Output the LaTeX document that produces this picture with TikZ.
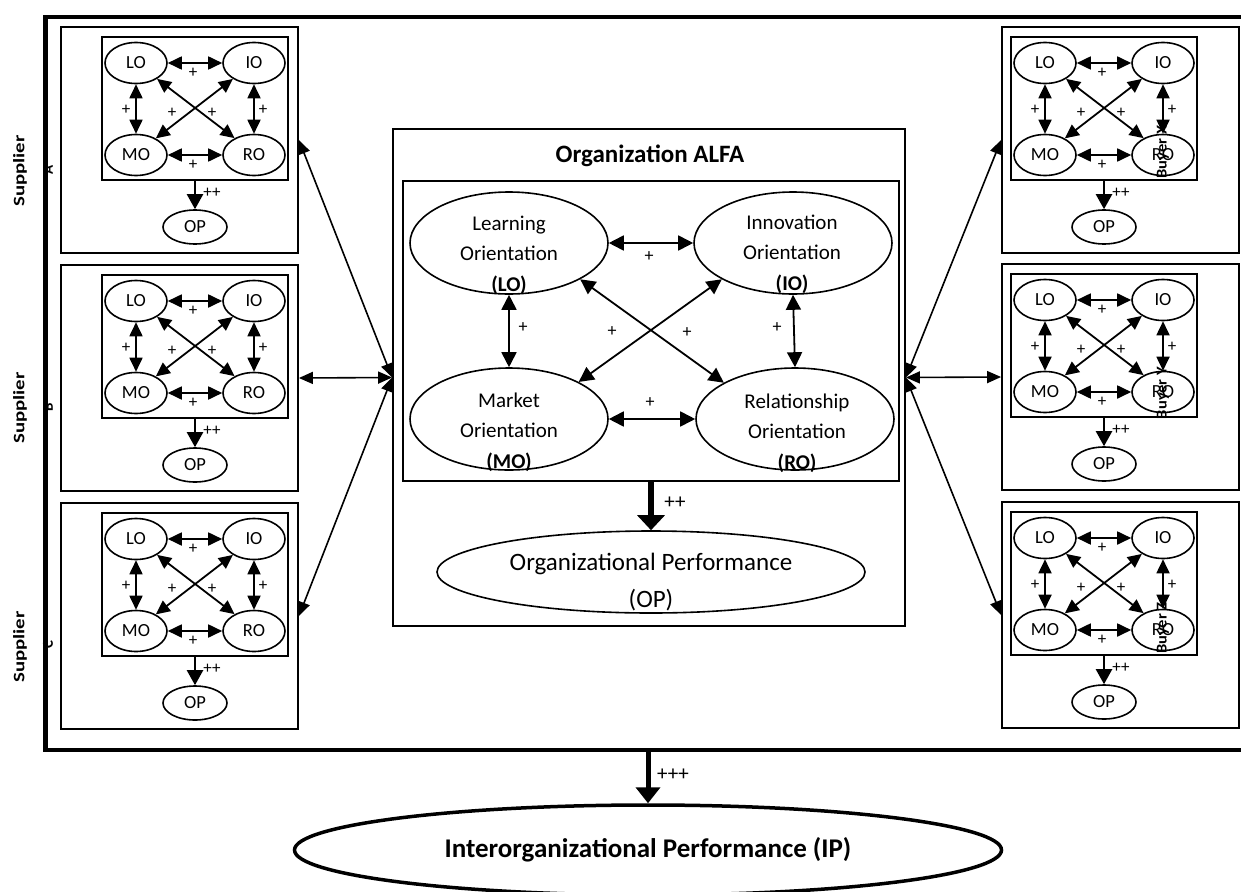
\documentclass[tikz,border=0pt]{standalone}
\usepackage{fontspec}
\setmainfont{Carlito}
\usetikzlibrary{arrows.meta,shapes.geometric}
\tikzset{
  frameline/.style={line width=4.3pt},
  boxr/.style={draw, rectangle, line width=1.8pt, inner sep=0pt},
  sell/.style={draw, ellipse, line width=1.6pt, minimum width=62pt, minimum height=41pt, inner sep=0pt, font=\fontsize{18.5}{20}\selectfont},
  sopell/.style={sell, minimum width=64pt, minimum height=34pt},
  sarr/.style={line width=1.8pt, {Triangle[length=14pt,width=13pt]}-{Triangle[length=14pt,width=13pt]}},
  sone/.style={line width=2.2pt, -{Triangle[length=15pt,width=16pt]}},
  plus/.style={inner sep=0pt, font=\fontsize{17}{18}\selectfont},
  bell/.style={draw, ellipse, line width=1.6pt, minimum width=198pt, minimum height=102pt, inner sep=0pt},
  btext/.style={align=center, inner sep=0pt, font=\fontsize{21}{30.5}\selectfont},
  barr/.style={line width=1.8pt, {Triangle[length=15pt,width=15pt]}-{Triangle[length=15pt,width=15pt]}},
  carr/.style={line width=1.6pt, {Triangle[length=14pt,width=12pt]}-{Triangle[length=14pt,width=12pt]}},
  sidelbl/.style={rotate=90, inner sep=0pt, font=\bfseries\fontsize{16}{18}\selectfont},
  letlbl/.style={rotate=90, inner sep=0pt, font=\bfseries\fontsize{15}{18}\selectfont},
  outerbox/.style={boxr, minimum width=237pt, minimum height=226pt},
}
\newcommand{\SmallModel}[3]{%
  \node[boxr, minimum width=186pt, minimum height=143pt] (#1-in) at ({#2+59},{#3+81.5}) {};
  \node[sell] (#1-lo) at (#2,{#3+36}) {LO};
  \node[sell] (#1-io) at ({#2+118},{#3+36}) {IO};
  \node[sell] (#1-mo) at (#2,{#3+128}) {MO};
  \node[sell] (#1-ro) at ({#2+118},{#3+128}) {RO};
  \node[sopell] (#1-op) at ({#2+59},{#3+200}) {OP};
  \draw[sarr] (#1-lo.east) -- (#1-io.west);
  \draw[sarr] (#1-mo.east) -- (#1-ro.west);
  \draw[sarr] (#1-lo.south) -- (#1-mo.north);
  \draw[sarr] (#1-io.south) -- (#1-ro.north);
  \draw[sarr] (#1-lo.-37) -- (#1-ro.139);
  \draw[sarr] (#1-io.217) -- (#1-mo.40);
  \draw[sone] (#1-in.south) -- (#1-op.north);
  \node[plus] (#1-p1) at ({#2+57},{#3+46}) {+};
  \node[plus] (#1-p2) at ({#2+57},{#3+138}) {+};
  \node[plus] (#1-p3) at ({#2-10},{#3+83}) {+};
  \node[plus] (#1-p4) at ({#2+127},{#3+83}) {+};
  \node[plus] (#1-p5) at ({#2+36},{#3+86}) {+};
  \node[plus] (#1-p6) at ({#2+76},{#3+86}) {+};
  \node[plus] (#1-p7) at ({#2+76},{#3+166}) {++};
}
\begin{document}
\begin{tikzpicture}[x=1pt,y=-1pt]
\path[use as bounding box, clip] (0,0) rectangle (1241,891);
\fill[white] (0,0) rectangle (1241,891);

% outer frame
\draw[frameline] (1260,17) -- (45.5,17) -- (45.5,750) -- (1260,750);
\coordinate (fb) at (648,750);

% supplier and buyer boxes
\node[outerbox] (sA) at (179.5,140) {};
\node[outerbox] (sB) at (179.5,378) {};
\node[outerbox] (sC) at (179.5,616) {};
\node[outerbox] (bX) at (1120.5,140) {};
\node[outerbox] (bY) at (1120.5,377) {};
\node[outerbox] (bZ) at (1120.5,615) {};

\SmallModel{sA}{136}{27}
\SmallModel{sB}{136}{265}
\SmallModel{sC}{136}{503}
\SmallModel{bX}{1045}{27}
\SmallModel{bY}{1045}{264}
\SmallModel{bZ}{1045}{502}

% side labels
\node[sidelbl] (sA-l1) at (20,171) {\scalebox{1.3}[1]{Supplier}};
\node[letlbl] (sA-l2) at (48,170) {A};
\node[sidelbl] (sB-l1) at (20,408) {\scalebox{1.3}[1]{Supplier}};
\node[letlbl] (sB-l2) at (48,407) {B};
\node[sidelbl] (sC-l1) at (20,647) {\scalebox{1.3}[1]{Supplier}};
\node[letlbl] (sC-l2) at (48,645) {C};
\node[letlbl] (bX-l) at (1163,152) {\scalebox{1.1}[1]{Buyer X}};
\node[letlbl] (bY-l) at (1163,393) {\scalebox{1.1}[1]{Buyer Y}};
\node[letlbl] (bZ-l) at (1163,628) {\scalebox{1.1}[1]{Buyer Z}};

% central organization
\node[boxr, minimum width=512pt, minimum height=497pt] (alfa) at (649,377.5) {};
\node[font=\bfseries\fontsize{25}{30}\selectfont, inner sep=0pt] (alfa-t) at (650,156) {Organization ALFA};
\node[boxr, minimum width=496pt, minimum height=300pt] (core) at (651,331) {};

\node[bell] (lo) at (509,243) {};
\node[bell] (io) at (793,243) {};
\node[bell] (mo) at (509,419) {};
\node[bell] (ro) at (795,419) {};
\node[btext] (lo-t) at (509,255) {Learning\\Orientation\\\textbf{(LO)}};
\node[btext] (io-t) at (792,254) {Innovation\\Orientation\\\textbf{(IO)}};
\node[btext] (mo-t) at (509,432) {Market\\Orientation\\\textbf{(MO)}};
\node[btext] (ro-t) at (797,433) {Relationship\\Orientation\\\textbf{(RO)}};

\draw[barr] (lo.east) -- (io.west);
\draw[barr] (mo.east) -- (ro.west);
\draw[barr] (lo.south) -- (mo.north);
\draw[barr] (io.south) -- (ro.north);
\draw[barr] (lo.-27) -- (ro.153);
\draw[barr] (io.207) -- (mo.28);

\node[plus, font=\fontsize{18}{18}\selectfont] (c-p1) at (649,257) {+};
\node[plus, font=\fontsize{18}{18}\selectfont] (c-p2) at (650,403) {+};
\node[plus, font=\fontsize{18}{18}\selectfont] (c-p3) at (523,328) {+};
\node[plus, font=\fontsize{18}{18}\selectfont] (c-p4) at (777,328) {+};
\node[plus, font=\fontsize{18}{18}\selectfont] (c-p5) at (612,332) {+};
\node[plus, font=\fontsize{18}{18}\selectfont] (c-p6) at (687,333) {+};

\node[draw, ellipse, line width=1.6pt, minimum width=428pt, minimum height=82pt, inner sep=0pt] (op) at (651,572) {};
\node[align=center, inner sep=0pt, font=\fontsize{25}{37}\selectfont] (op-t) at (651,582) {Organizational Performance\\(OP)};
\draw[line width=6pt, -{Triangle[length=15pt,width=27pt]}] (core.south) -- (op.north);
\node[plus, font=\fontsize{21}{22}\selectfont] (c-p7) at (675,503) {++};

% connectors
\draw[carr] (sA.east) -- (alfa.west);
\draw[carr] (sB.east) -- (alfa.west);
\draw[carr] (sC.east) -- (alfa.west);
\draw[carr] (alfa.east) -- (bX.west);
\draw[carr] (alfa.east) -- (bY.west);
\draw[carr] (alfa.east) -- (bZ.west);

% interorganizational performance
\node[draw, ellipse, line width=3.5pt, minimum width=707pt, minimum height=90pt, inner sep=0pt, font=\bfseries\fontsize{27}{30}\selectfont] (ip) at (648,850) {Interorganizational Performance (IP)};
\draw[line width=5pt, -{Triangle[length=16pt,width=24pt]}] (fb) -- (ip.north);
\node[plus, font=\fontsize{21}{22}\selectfont] (ip-p) at (673,775) {+++};
\end{tikzpicture}
\end{document}
